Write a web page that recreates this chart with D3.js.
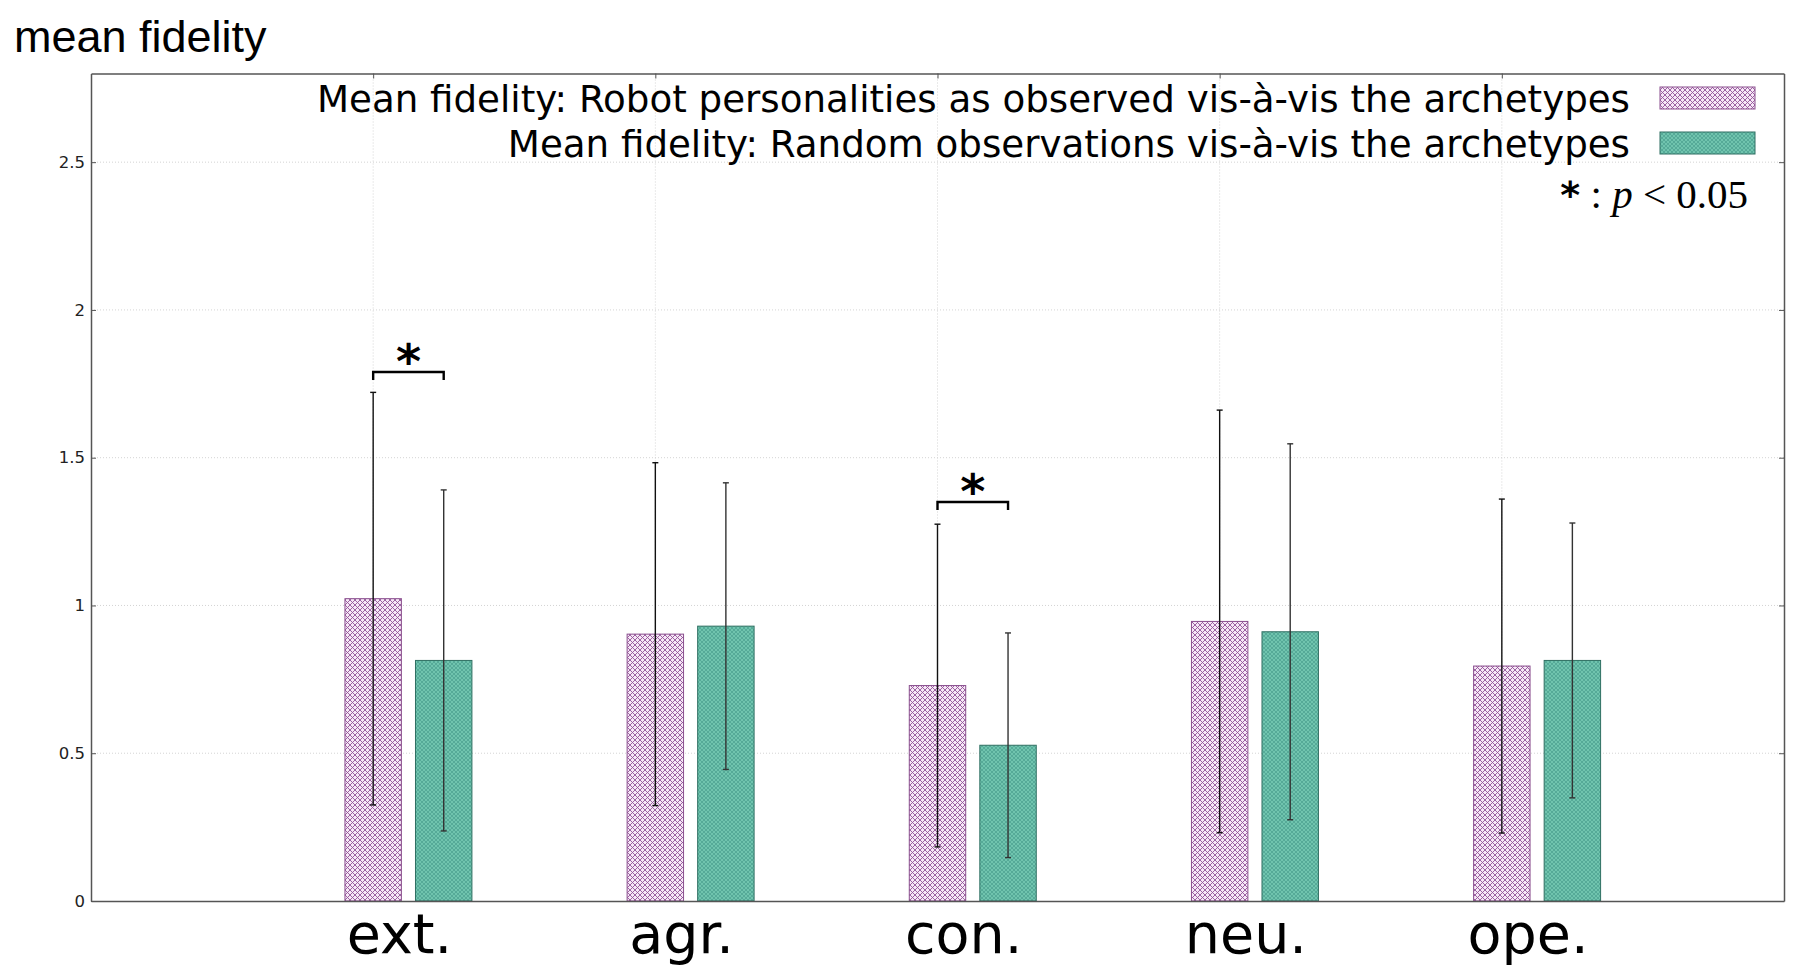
<!DOCTYPE html>
<html>
<head>
<meta charset="utf-8">
<script src="https://cdn.jsdelivr.net/npm/d3@7"></script>
<style>
  html, body { margin: 0; padding: 0; background: #fff; }
  svg { display: block; }
</style>
</head>
<body>
<svg id="chart" width="1800" height="977"></svg>
<script>
// ---- data ----
const categories = ["ext.", "agr.", "con.", "neu.", "ope."];
const robotMean = [1.023, 0.903, 0.729, 0.946, 0.795];
const robotSD   = [0.698, 0.580, 0.546, 0.715, 0.565];
const randomMean = [0.814, 0.930, 0.527, 0.911, 0.814];
const randomSD   = [0.577, 0.485, 0.380, 0.636, 0.465];
const yTicks = [0, 0.5, 1, 1.5, 2, 2.5];
const seriesNames = [
  "Mean fidelity: Robot personalities as observed vis-à-vis the archetypes",
  "Mean fidelity: Random observations vis-à-vis the archetypes"
];
const sigIndex = [0, 2];          // categories with p < 0.05
const sigLevel = [1.79, 1.35];    // bracket height (value units)
const yTitle = "mean fidelity";

// ---- layout ----
const pLeft = 91, pRight = 1784, pTop = 73.5, pBottom = 901;
const svg = d3.select("#chart");

const x = d3.scaleLinear().domain([-1, 5]).range([pLeft, pRight]);
const y = d3.scaleLinear().domain([0, 2.8]).range([pBottom, pTop]);
const barOffset = 0.25, barW = 0.2;

// patterns
const defs = svg.append("defs");
const pp = defs.append("pattern").attr("id", "pinkHatch").attr("patternUnits", "userSpaceOnUse")
  .attr("width", 5).attr("height", 5);
pp.append("rect").attr("width", 5).attr("height", 5).attr("fill", "#f6e8f6");
pp.append("path").attr("d", "M0,0 L5,5 M5,0 L0,5")
  .attr("stroke", "#93549a").attr("stroke-width", 0.9);
const gp = defs.append("pattern").attr("id", "greenHatch").attr("patternUnits", "userSpaceOnUse")
  .attr("width", 4).attr("height", 4);
gp.append("rect").attr("width", 4).attr("height", 4).attr("fill", "#70c4ae");
gp.append("path").attr("d", "M0,0 L4,4 M4,0 L0,4")
  .attr("stroke", "#44988a").attr("stroke-width", 0.6);

// gridlines
const grid = svg.append("g");
grid.selectAll("line.h").data(yTicks.filter(d => d > 0)).enter().append("line")
  .attr("x1", pLeft).attr("x2", pRight).attr("y1", d => y(d)).attr("y2", d => y(d))
  .attr("stroke", "#d4d4d4").attr("stroke-width", 1).attr("stroke-dasharray", "1,2");
grid.selectAll("line.v").data(d3.range(categories.length)).enter().append("line")
  .attr("x1", d => x(d)).attr("x2", d => x(d)).attr("y1", pTop).attr("y2", pBottom)
  .attr("stroke", "#d4d4d4").attr("stroke-width", 1).attr("stroke-dasharray", "1,2");

// bars
const bw = x(barW) - x(0);
const bars = svg.append("g");
bars.selectAll("rect.robot").data(robotMean).enter().append("rect")
  .attr("x", (d, i) => x(i) - bw / 2).attr("width", bw)
  .attr("y", d => y(d)).attr("height", d => y(0) - y(d))
  .attr("fill", "url(#pinkHatch)").attr("stroke", "#8a4f8e").attr("stroke-width", 1);
bars.selectAll("rect.random").data(randomMean).enter().append("rect")
  .attr("x", (d, i) => x(i + barOffset) - bw / 2).attr("width", bw)
  .attr("y", d => y(d)).attr("height", d => y(0) - y(d))
  .attr("fill", "url(#greenHatch)").attr("stroke", "#2f6f62").attr("stroke-width", 1);

// error bars
function errBars(means, sds, off, color) {
  const g = svg.append("g").attr("stroke", color).attr("stroke-width", 1.4);
  means.forEach((m, i) => {
    const cx = x(i + off);
    const hi = y(m + sds[i]), lo = y(Math.max(0, m - sds[i]));
    g.append("line").attr("x1", cx).attr("x2", cx).attr("y1", hi).attr("y2", lo);
    g.append("line").attr("x1", cx - 3).attr("x2", cx + 3).attr("y1", hi).attr("y2", hi);
    g.append("line").attr("x1", cx - 3).attr("x2", cx + 3).attr("y1", lo).attr("y2", lo);
  });
}
errBars(robotMean, robotSD, 0, "#111");
errBars(randomMean, randomSD, barOffset, "#333");

// significance brackets
sigIndex.forEach((ci, k) => {
  const x1 = x(ci), x2 = x(ci + barOffset), yb = y(sigLevel[k]);
  svg.append("path")
    .attr("d", `M${x1},${yb + 8} L${x1},${yb} L${x2},${yb} L${x2},${yb + 8}`)
    .attr("fill", "none").attr("stroke", "#000").attr("stroke-width", 2.4);
  svg.append("text").attr("x", (x1 + x2) / 2).attr("y", yb + 6)
    .attr("text-anchor", "middle").attr("font-family", "DejaVu Sans").attr("font-weight", "bold")
    .attr("font-size", 48).attr("fill", "#000").text("*");
});

// axes (frame)
const axStyle = g => {
  g.select(".domain").attr("stroke", "#555").attr("stroke-width", 1.5);
  g.selectAll(".tick line").attr("stroke", "#555").attr("stroke-width", 1);
};
svg.append("g").attr("transform", `translate(${pLeft},0)`)
  .call(d3.axisLeft(y).tickValues(yTicks).tickFormat(d => d).tickSizeInner(-5).tickSizeOuter(0).tickPadding(6))
  .call(axStyle)
  .call(g => g.selectAll("text").attr("font-family", "DejaVu Sans").attr("font-size", 16.5).attr("fill", "#222"));
svg.append("g").attr("transform", `translate(${pRight},0)`)
  .call(d3.axisRight(y).tickValues(yTicks).tickFormat("").tickSizeInner(-5).tickSizeOuter(0))
  .call(axStyle);
svg.append("g").attr("transform", `translate(0,${pTop})`)
  .call(d3.axisTop(x).tickValues(d3.range(categories.length)).tickFormat("").tickSizeInner(-5).tickSizeOuter(0))
  .call(axStyle);
svg.append("g").attr("transform", `translate(0,${pBottom})`)
  .call(d3.axisBottom(x).tickValues([]).tickSizeOuter(0))
  .call(axStyle);

// category labels
svg.append("g").selectAll("text").data(categories).enter().append("text")
  .attr("x", (d, i) => x(i + barOffset / 2) - 9).attr("y", 953)
  .attr("text-anchor", "middle").attr("font-family", "DejaVu Sans").attr("font-size", 55.5)
  .attr("fill", "#000").text(d => d);

// y title
svg.append("text").attr("x", 14).attr("y", 52).attr("font-family", "Liberation Sans, Arial")
  .attr("font-size", 45).attr("fill", "#000").text(yTitle);

// legend
const legY = [112, 157];
const legFill = ["url(#pinkHatch)", "url(#greenHatch)"];
const legStroke = ["#8a4f8e", "#2f6f62"];
seriesNames.forEach((name, i) => {
  svg.append("text").attr("x", 1630).attr("y", legY[i]).attr("text-anchor", "end")
    .attr("font-family", "DejaVu Sans").attr("font-size", 37.2).attr("fill", "#000").text(name);
  svg.append("rect").attr("x", 1660).attr("y", legY[i] - 25).attr("width", 95).attr("height", 22)
    .attr("fill", legFill[i]).attr("stroke", legStroke[i]).attr("stroke-width", 1);
});
const note = svg.append("text").attr("x", 1748).attr("y", 208).attr("text-anchor", "end")
  .attr("font-family", "Liberation Serif, Times New Roman").attr("font-size", 41).attr("fill", "#000");
note.append("tspan").attr("font-family", "DejaVu Sans").attr("font-weight", "bold").attr("font-size", 38).text("*");
note.append("tspan").text(" : ");
note.append("tspan").attr("font-style", "italic").text("p");
note.append("tspan").text(" < 0.05");
</script>
</body>
</html>
